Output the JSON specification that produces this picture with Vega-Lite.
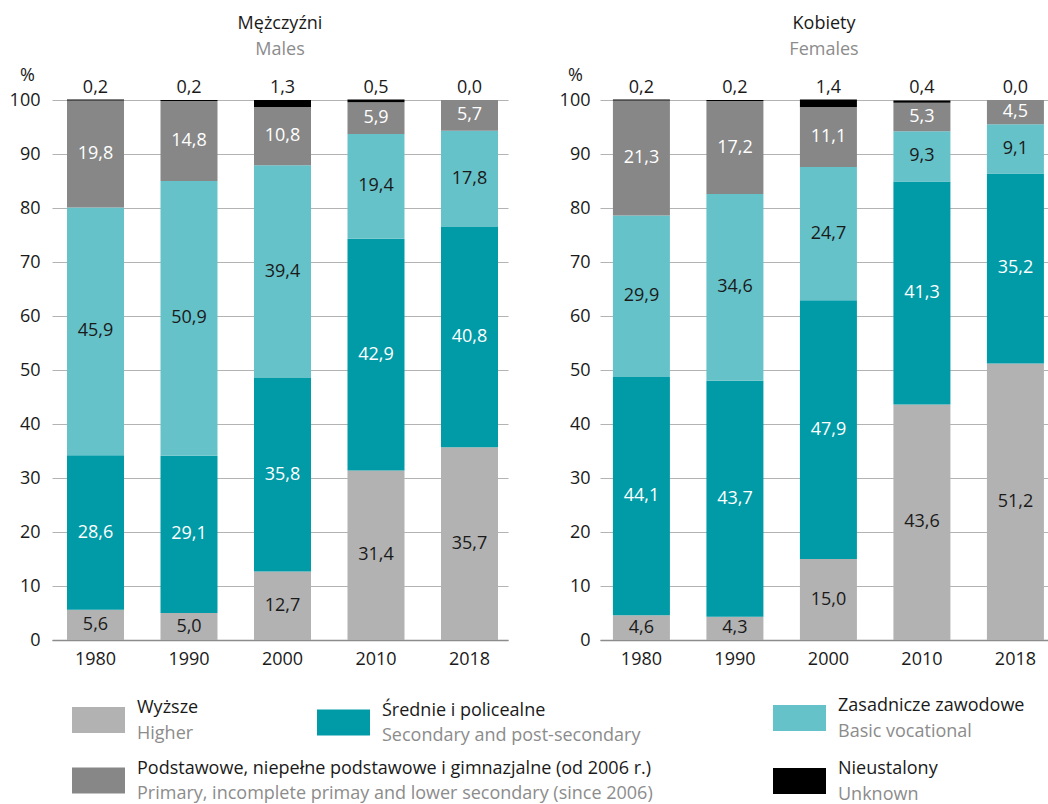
{
  "$schema": "https://vega.github.io/schema/vega-lite/v6.json",
  "padding": {"left": 9, "top": 15, "right": 0, "bottom": 0},
  "spacing": 10,
  "config": {
    "font": "Open Sans",
    "view": {"stroke": null},
    "locale": {"number": {"decimal": ",", "thousands": "\u00a0", "grouping": [3], "currency": ["", " zł"]}}
  },
  "datasets": {
    "edu": [
      {"s": "M", "year": "1980", "c": "Wyższe", "k": 1, "v": 5.6},
      {"s": "M", "year": "1980", "c": "Średnie i policealne", "k": 2, "v": 28.6},
      {"s": "M", "year": "1980", "c": "Zasadnicze zawodowe", "k": 3, "v": 45.9},
      {"s": "M", "year": "1980", "c": "Podstawowe, niepełne podstawowe i gimnazjalne (od 2006 r.)", "k": 4, "v": 19.8},
      {"s": "M", "year": "1980", "c": "Nieustalony", "k": 5, "v": 0.2},
      {"s": "M", "year": "1990", "c": "Wyższe", "k": 1, "v": 5.0},
      {"s": "M", "year": "1990", "c": "Średnie i policealne", "k": 2, "v": 29.1},
      {"s": "M", "year": "1990", "c": "Zasadnicze zawodowe", "k": 3, "v": 50.9},
      {"s": "M", "year": "1990", "c": "Podstawowe, niepełne podstawowe i gimnazjalne (od 2006 r.)", "k": 4, "v": 14.8},
      {"s": "M", "year": "1990", "c": "Nieustalony", "k": 5, "v": 0.2},
      {"s": "M", "year": "2000", "c": "Wyższe", "k": 1, "v": 12.7},
      {"s": "M", "year": "2000", "c": "Średnie i policealne", "k": 2, "v": 35.8},
      {"s": "M", "year": "2000", "c": "Zasadnicze zawodowe", "k": 3, "v": 39.4},
      {"s": "M", "year": "2000", "c": "Podstawowe, niepełne podstawowe i gimnazjalne (od 2006 r.)", "k": 4, "v": 10.8},
      {"s": "M", "year": "2000", "c": "Nieustalony", "k": 5, "v": 1.3},
      {"s": "M", "year": "2010", "c": "Wyższe", "k": 1, "v": 31.4},
      {"s": "M", "year": "2010", "c": "Średnie i policealne", "k": 2, "v": 42.9},
      {"s": "M", "year": "2010", "c": "Zasadnicze zawodowe", "k": 3, "v": 19.4},
      {"s": "M", "year": "2010", "c": "Podstawowe, niepełne podstawowe i gimnazjalne (od 2006 r.)", "k": 4, "v": 5.9},
      {"s": "M", "year": "2010", "c": "Nieustalony", "k": 5, "v": 0.5},
      {"s": "M", "year": "2018", "c": "Wyższe", "k": 1, "v": 35.7},
      {"s": "M", "year": "2018", "c": "Średnie i policealne", "k": 2, "v": 40.8},
      {"s": "M", "year": "2018", "c": "Zasadnicze zawodowe", "k": 3, "v": 17.8},
      {"s": "M", "year": "2018", "c": "Podstawowe, niepełne podstawowe i gimnazjalne (od 2006 r.)", "k": 4, "v": 5.7},
      {"s": "M", "year": "2018", "c": "Nieustalony", "k": 5, "v": 0.0},
      {"s": "K", "year": "1980", "c": "Wyższe", "k": 1, "v": 4.6},
      {"s": "K", "year": "1980", "c": "Średnie i policealne", "k": 2, "v": 44.1},
      {"s": "K", "year": "1980", "c": "Zasadnicze zawodowe", "k": 3, "v": 29.9},
      {"s": "K", "year": "1980", "c": "Podstawowe, niepełne podstawowe i gimnazjalne (od 2006 r.)", "k": 4, "v": 21.3},
      {"s": "K", "year": "1980", "c": "Nieustalony", "k": 5, "v": 0.2},
      {"s": "K", "year": "1990", "c": "Wyższe", "k": 1, "v": 4.3},
      {"s": "K", "year": "1990", "c": "Średnie i policealne", "k": 2, "v": 43.7},
      {"s": "K", "year": "1990", "c": "Zasadnicze zawodowe", "k": 3, "v": 34.6},
      {"s": "K", "year": "1990", "c": "Podstawowe, niepełne podstawowe i gimnazjalne (od 2006 r.)", "k": 4, "v": 17.2},
      {"s": "K", "year": "1990", "c": "Nieustalony", "k": 5, "v": 0.2},
      {"s": "K", "year": "2000", "c": "Wyższe", "k": 1, "v": 15.0},
      {"s": "K", "year": "2000", "c": "Średnie i policealne", "k": 2, "v": 47.9},
      {"s": "K", "year": "2000", "c": "Zasadnicze zawodowe", "k": 3, "v": 24.7},
      {"s": "K", "year": "2000", "c": "Podstawowe, niepełne podstawowe i gimnazjalne (od 2006 r.)", "k": 4, "v": 11.1},
      {"s": "K", "year": "2000", "c": "Nieustalony", "k": 5, "v": 1.4},
      {"s": "K", "year": "2010", "c": "Wyższe", "k": 1, "v": 43.6},
      {"s": "K", "year": "2010", "c": "Średnie i policealne", "k": 2, "v": 41.3},
      {"s": "K", "year": "2010", "c": "Zasadnicze zawodowe", "k": 3, "v": 9.3},
      {"s": "K", "year": "2010", "c": "Podstawowe, niepełne podstawowe i gimnazjalne (od 2006 r.)", "k": 4, "v": 5.3},
      {"s": "K", "year": "2010", "c": "Nieustalony", "k": 5, "v": 0.4},
      {"s": "K", "year": "2018", "c": "Wyższe", "k": 1, "v": 51.2},
      {"s": "K", "year": "2018", "c": "Średnie i policealne", "k": 2, "v": 35.2},
      {"s": "K", "year": "2018", "c": "Zasadnicze zawodowe", "k": 3, "v": 9.1},
      {"s": "K", "year": "2018", "c": "Podstawowe, niepełne podstawowe i gimnazjalne (od 2006 r.)", "k": 4, "v": 4.5},
      {"s": "K", "year": "2018", "c": "Nieustalony", "k": 5, "v": 0.0}
    ],
    "legend": [
      {"c": "Wyższe", "en": "Higher", "k": 1},
      {"c": "Średnie i policealne", "en": "Secondary and post-secondary", "k": 2},
      {"c": "Zasadnicze zawodowe", "en": "Basic vocational", "k": 3},
      {"c": "Podstawowe, niepełne podstawowe i gimnazjalne (od 2006 r.)", "en": "Primary, incomplete primay and lower secondary (since 2006)", "k": 4},
      {"c": "Nieustalony", "en": "Unknown", "k": 5}
    ]
  },
  "vconcat": [
    {
      "bounds": "flush",
      "spacing": 92,
      "hconcat": [
        {
          "data": {"name": "edu"},
          "transform": [{"filter": "datum.s === 'M'"}],
          "width": 456,
          "height": 540,
          "title": {"text": "Mężczyźni", "subtitle": "Males", "fontSize": 18, "fontWeight": "normal", "color": "#1a1a1a", "subtitleFontSize": 18, "subtitleColor": "#8c8c8c", "subtitlePadding": 8, "anchor": "middle", "frame": "group", "offset": 7},
          "encoding": {
            "x": {"field": "year", "type": "ordinal", "title": null,
                  "scale": {"paddingInner": 0.3904, "paddingOuter": 0.1337, "align": 0.6},
                  "axis": {"domain": true, "domainColor": "#8c8c8c", "domainWidth": 1.5, "ticks": false, "labelPadding": 10, "labelFontSize": 18, "labelAngle": 0, "labelColor": "#1a1a1a", "grid": false}}
          },
          "layer": [
            {
              "mark": {"type": "bar"},
              "encoding": {
                "y": {"field": "v", "type": "quantitative", "stack": "zero",
                      "scale": {"domain": [0, 100], "nice": false},
                      "axis": {"title": "%", "titleAngle": 0, "titleX": -25, "titleY": -25, "titleAlign": "center", "titleBaseline": "middle", "titleFontSize": 18, "titleFontWeight": "normal", "titleColor": "#1a1a1a", "values": [0, 10, 20, 30, 40, 50, 60, 70, 80, 90, 100], "format": "d", "domain": false, "ticks": false, "labelPadding": 12, "labelFontSize": 18, "labelColor": "#1a1a1a", "gridColor": "#b3b3b3"}},
                "color": {"field": "c", "type": "nominal", "legend": null,
                          "scale": {"domain": ["Wyższe", "Średnie i policealne", "Zasadnicze zawodowe", "Podstawowe, niepełne podstawowe i gimnazjalne (od 2006 r.)", "Nieustalony"], "range": ["#b2b2b2", "#009ba6", "#66c2c9", "#878787", "#000000"]}},
                "order": {"field": "k", "type": "quantitative"}
              }
            },
            {
              "mark": {"type": "text", "baseline": "middle", "align": "center", "fontSize": 18},
              "encoding": {
                "y": {"field": "v", "type": "quantitative", "stack": "zero", "bandPosition": 0.5,
                      "axis": {"title": "%", "titleAngle": 0, "titleX": -25, "titleY": -25, "titleAlign": "center", "titleBaseline": "middle", "titleFontSize": 18, "titleFontWeight": "normal", "titleColor": "#1a1a1a", "values": [0, 10, 20, 30, 40, 50, 60, 70, 80, 90, 100], "format": "d", "domain": false, "ticks": false, "labelPadding": 12, "labelFontSize": 18, "labelColor": "#1a1a1a", "gridColor": "#b3b3b3"}},
                "detail": {"field": "c"},
                "order": {"field": "k", "type": "quantitative"},
                "text": {"condition": {"test": "datum.k === 5", "value": ""}, "field": "v", "type": "quantitative", "format": ".1f"},
                "color": {"condition": {"test": "datum.k === 2 || datum.k === 4", "value": "#ffffff"}, "value": "#1a1a1a"}
              }
            },
            {
              "transform": [{"filter": "datum.k === 5"}],
              "mark": {"type": "text", "baseline": "alphabetic", "align": "center", "dy": -7, "fontSize": 18, "color": "#1a1a1a"},
              "encoding": {
                "y": {"datum": 100, "type": "quantitative",
                      "axis": {"title": "%", "titleAngle": 0, "titleX": -25, "titleY": -25, "titleAlign": "center", "titleBaseline": "middle", "titleFontSize": 18, "titleFontWeight": "normal", "titleColor": "#1a1a1a", "values": [0, 10, 20, 30, 40, 50, 60, 70, 80, 90, 100], "format": "d", "domain": false, "ticks": false, "labelPadding": 12, "labelFontSize": 18, "labelColor": "#1a1a1a", "gridColor": "#b3b3b3"}},
                "text": {"field": "v", "type": "quantitative", "format": ".1f"}
              }
            }
          ]
        },
        {
          "data": {"name": "edu"},
          "transform": [{"filter": "datum.s === 'K'"}],
          "width": 448,
          "height": 540,
          "title": {"text": "Kobiety", "subtitle": "Females", "fontSize": 18, "fontWeight": "normal", "color": "#1a1a1a", "subtitleFontSize": 18, "subtitleColor": "#8c8c8c", "subtitlePadding": 8, "anchor": "middle", "frame": "group", "offset": 7},
          "encoding": {
            "x": {"field": "year", "type": "ordinal", "title": null,
                  "scale": {"paddingInner": 0.3904, "paddingOuter": 0.0909, "align": 0.76},
                  "axis": {"domain": true, "domainColor": "#8c8c8c", "domainWidth": 1.5, "ticks": false, "labelPadding": 10, "labelFontSize": 18, "labelAngle": 0, "labelColor": "#1a1a1a", "grid": false}}
          },
          "layer": [
            {
              "mark": {"type": "bar"},
              "encoding": {
                "y": {"field": "v", "type": "quantitative", "stack": "zero",
                      "scale": {"domain": [0, 100], "nice": false},
                      "axis": {"title": "%", "titleAngle": 0, "titleX": -25, "titleY": -25, "titleAlign": "center", "titleBaseline": "middle", "titleFontSize": 18, "titleFontWeight": "normal", "titleColor": "#1a1a1a", "values": [0, 10, 20, 30, 40, 50, 60, 70, 80, 90, 100], "format": "d", "domain": false, "ticks": false, "labelPadding": 10, "labelFontSize": 18, "labelColor": "#1a1a1a", "gridColor": "#b3b3b3"}},
                "color": {"field": "c", "type": "nominal", "legend": null,
                          "scale": {"domain": ["Wyższe", "Średnie i policealne", "Zasadnicze zawodowe", "Podstawowe, niepełne podstawowe i gimnazjalne (od 2006 r.)", "Nieustalony"], "range": ["#b2b2b2", "#009ba6", "#66c2c9", "#878787", "#000000"]}},
                "order": {"field": "k", "type": "quantitative"}
              }
            },
            {
              "mark": {"type": "text", "baseline": "middle", "align": "center", "fontSize": 18},
              "encoding": {
                "y": {"field": "v", "type": "quantitative", "stack": "zero", "bandPosition": 0.5,
                      "axis": {"title": "%", "titleAngle": 0, "titleX": -25, "titleY": -25, "titleAlign": "center", "titleBaseline": "middle", "titleFontSize": 18, "titleFontWeight": "normal", "titleColor": "#1a1a1a", "values": [0, 10, 20, 30, 40, 50, 60, 70, 80, 90, 100], "format": "d", "domain": false, "ticks": false, "labelPadding": 10, "labelFontSize": 18, "labelColor": "#1a1a1a", "gridColor": "#b3b3b3"}},
                "detail": {"field": "c"},
                "order": {"field": "k", "type": "quantitative"},
                "text": {"condition": {"test": "datum.k === 5", "value": ""}, "field": "v", "type": "quantitative", "format": ".1f"},
                "color": {"condition": {"test": "datum.k === 2 || datum.k === 4", "value": "#ffffff"}, "value": "#1a1a1a"}
              }
            },
            {
              "transform": [{"filter": "datum.k === 5"}],
              "mark": {"type": "text", "baseline": "alphabetic", "align": "center", "dy": -7, "fontSize": 18, "color": "#1a1a1a"},
              "encoding": {
                "y": {"datum": 100, "type": "quantitative",
                      "axis": {"title": "%", "titleAngle": 0, "titleX": -25, "titleY": -25, "titleAlign": "center", "titleBaseline": "middle", "titleFontSize": 18, "titleFontWeight": "normal", "titleColor": "#1a1a1a", "values": [0, 10, 20, 30, 40, 50, 60, 70, 80, 90, 100], "format": "d", "domain": false, "ticks": false, "labelPadding": 10, "labelFontSize": 18, "labelColor": "#1a1a1a", "gridColor": "#b3b3b3"}},
                "text": {"field": "v", "type": "quantitative", "format": ".1f"}
              }
            }
          ]
        }
      ]
    },
    {
      "data": {"name": "legend"},
      "width": 996,
      "height": 120,
      "encoding": {
        "x": {"field": "k", "type": "quantitative", "axis": null,
              "scale": {"domain": [1, 2, 3, 4, 5], "range": [46.5, 291.5, 747.5, 46.5, 747.5], "nice": false, "zero": false}},
        "y": {"field": "k", "type": "quantitative", "axis": null,
              "scale": {"domain": [1, 2, 3, 4, 5], "range": [42, 44.5, 40, 102.5, 103], "nice": false, "zero": false}}
      },
      "layer": [
        {
          "mark": {"type": "point", "shape": "M-1,-0.49H1V0.49H-1Z", "filled": true, "size": 2809, "opacity": 1, "strokeWidth": 0},
          "encoding": {
            "color": {"field": "c", "type": "nominal", "legend": null,
                      "scale": {"domain": ["Wyższe", "Średnie i policealne", "Zasadnicze zawodowe", "Podstawowe, niepełne podstawowe i gimnazjalne (od 2006 r.)", "Nieustalony"], "range": ["#b2b2b2", "#009ba6", "#66c2c9", "#878787", "#000000"]}}
          }
        },
        {
          "mark": {"type": "text", "align": "left", "baseline": "middle", "dx": 38.5, "dy": -12, "fontSize": 18, "color": "#1a1a1a"},
          "encoding": {"text": {"field": "c"}}
        },
        {
          "mark": {"type": "text", "align": "left", "baseline": "middle", "dx": 38.5, "dy": 13.5, "fontSize": 18, "color": "#8c8c8c"},
          "encoding": {"text": {"field": "en"}}
        }
      ]
    }
  ]
}
